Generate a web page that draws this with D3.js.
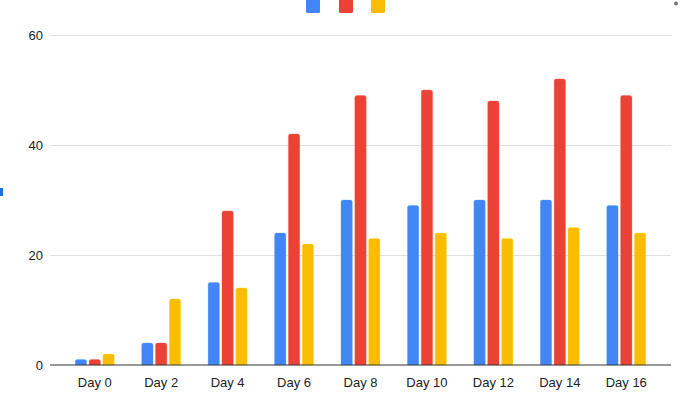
<!DOCTYPE html>
<html>
<head>
<meta charset="utf-8">
<script src="https://cdn.jsdelivr.net/npm/d3@7"></script>
<style>
  body { margin: 0; background: #fff; }
  svg { display: block; font-family: "Liberation Sans", Arial, sans-serif; }
</style>
</head>
<body>
<div id="BarChart"></div>
<script>
// chart data
const days = ["Day 0", "Day 2", "Day 4", "Day 6", "Day 8", "Day 10", "Day 12", "Day 14", "Day 16"];
const seriesNames = ["s1", "s2", "s3"];
const blueValues = [1, 4, 15, 24, 30, 29, 30, 30, 29];
const redValues = [1, 4, 28, 42, 49, 50, 48, 52, 49];
const yellowValues = [2, 12, 14, 22, 23, 24, 23, 25, 24];
const yTicks = [0, 20, 40, 60];
const colors = ["#4285f4", "#ea4335", "#fbbc04"];

// plot config
let width = 687;
let height = 399;
let plotName = "BarChart";
let plotLeft = 50, plotRight = 671, plotTop = 35, plotBottom = 365;

let series = [blueValues, redValues, yellowValues];
let data = [];
days.forEach((d, i) => {
  series.forEach((s, j) => {
    data.push({ x: d, key: seriesNames[j], value: s[i], i: j });
  });
});

let svg = d3
  .select("#" + plotName)
  .append("svg")
  .attr("width", width)
  .attr("height", height);

let x = d3.scaleBand().domain(days).range([plotLeft, plotRight]).paddingInner(0.413).paddingOuter(0.38);
let xInner = d3.scaleBand().domain(seriesNames).range([0, x.bandwidth()]).paddingInner(0.18);
let y = d3.scaleLinear().domain([0, 60]).range([plotBottom, plotTop]);

// gridlines + y labels
let yAxis = d3.axisLeft(y).tickValues(yTicks).tickSize(-(plotRight - plotLeft)).tickPadding(7);
let yg = svg
  .append("g")
  .attr("transform", "translate(" + plotLeft + ",0)")
  .call(yAxis);
yg.select(".domain").remove();
yg.selectAll(".tick line").attr("stroke", "#e0e0e0").attr("stroke-width", 1);
yg.selectAll(".tick text")
  .attr("fill", "#222")
  .style("font-size", "13px");
yg.selectAll(".tick").filter(d => d === 0).select("line").remove();

// bars with rounded tops
let r = 2;
let barPath = d => {
  let bx = x(d.x) + xInner(d.key);
  let bw = xInner.bandwidth();
  let by = y(d.value);
  let bh = y(0) - by;
  let rr = Math.min(r, bh);
  return "M" + bx + "," + y(0) +
    "V" + (by + rr) +
    "Q" + bx + "," + by + " " + (bx + rr) + "," + by +
    "H" + (bx + bw - rr) +
    "Q" + (bx + bw) + "," + by + " " + (bx + bw) + "," + (by + rr) +
    "V" + y(0) + "Z";
};

svg
  .selectAll("." + plotName + "_bar")
  .data(data)
  .enter()
  .append("path")
  .classed(plotName + "_bar", true)
  .attr("d", barPath)
  .attr("fill", d => colors[d.i])
  .attr("stroke", d => d3.color(colors[d.i]).brighter(0.6))
  .attr("stroke-opacity", 0.5)
  .attr("stroke-width", 0.6);

// baseline
svg
  .append("line")
  .attr("x1", plotLeft)
  .attr("x2", plotRight)
  .attr("y1", y(0))
  .attr("y2", y(0))
  .attr("stroke", "#333")
  .attr("stroke-width", 1);

// x labels
let xAxis = d3.axisBottom(x).tickSize(0).tickPadding(13);
let xg = svg
  .append("g")
  .attr("transform", "translate(0," + y(0) + ")")
  .call(xAxis);
xg.select(".domain").remove();
xg.selectAll(".tick text").attr("fill", "#222").style("font-size", "13px");

// legend swatches (clipped at top)
let legend = d3.scaleOrdinal().domain(seriesNames).range([306, 339, 371]);
svg
  .selectAll("." + plotName + "_legend")
  .data(seriesNames)
  .enter()
  .append("rect")
  .classed(plotName + "_legend", true)
  .attr("x", d => legend(d))
  .attr("y", -2)
  .attr("width", 14)
  .attr("height", 15)
  .attr("rx", 1.5)
  .attr("fill", (d, i) => colors[i]);

// small menu dot + left marker
svg.append("circle").attr("cx", 676).attr("cy", 3.5).attr("r", 2).attr("fill", "#757575");
svg.append("rect").attr("x", 0).attr("y", 188).attr("width", 3).attr("height", 8).attr("fill", "#1a73e8");
</script>
</body>
</html>
